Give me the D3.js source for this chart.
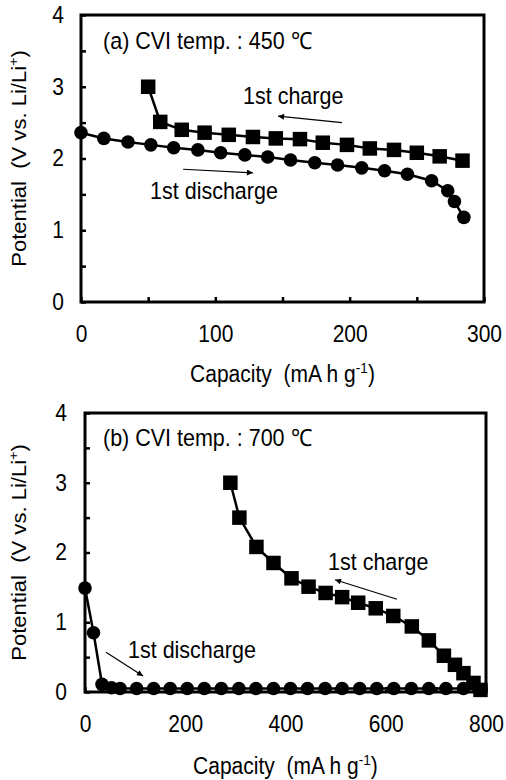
<!DOCTYPE html>
<html><head><meta charset="utf-8">
<script src="https://cdn.jsdelivr.net/npm/d3@7"></script>
<style>body{margin:0;background:#fff}
text{font-family:"Liberation Sans",Arial,sans-serif;fill:#000;white-space:pre}
.st{transform-box:fill-box;transform-origin:center;transform:scaleY(1.1)}
</style>
</head><body><svg id="c" width="506" height="780"></svg>
<script>
// ---- data (a) CVI 450
const aDisX=[0,17,35,52,69,87,104,122,139,156,174,191,209,226,243,261,273,278,285];
const aDisY=[2.36,2.28,2.23,2.19,2.15,2.12,2.08,2.05,2.02,1.98,1.94,1.91,1.87,1.83,1.78,1.69,1.55,1.40,1.18];
const aChgX=[50,59,75,92,110,128,145,163,180,198,215,233,250,267,284];
const aChgY=[3.0,2.51,2.40,2.36,2.33,2.30,2.28,2.27,2.22,2.19,2.14,2.12,2.08,2.03,1.97];
// ---- data (b) CVI 700
const bDisX=[0,17,34,53,70,103,137,170,204,238,272,307,341,376,410,444,479,513,548,582,616,651,686,720,755,786];
const bDisY=[1.49,0.85,0.11,0.06,0.05,0.05,0.05,0.05,0.05,0.05,0.05,0.05,0.05,0.05,0.05,0.05,0.05,0.05,0.05,0.05,0.05,0.05,0.05,0.05,0.05,0.04];
const bChgX=[290,308,342,376,412,446,480,513,545,580,615,652,686,716,738,755,775,789];
const bChgY=[3.0,2.50,2.08,1.85,1.63,1.51,1.42,1.36,1.28,1.20,1.09,0.94,0.74,0.52,0.39,0.27,0.13,0.03];
// ---- ticks
const yTicks=[0,0.5,1,1.5,2,2.5,3,3.5,4];
const yLabels=[0,1,2,3,4];
const aXTicks=[0,50,100,150,200,250,300];
const aXLabels=[0,100,200,300];
const bXTicks=[0,100,200,300,400,500,600,700,800];
const bXLabels=[0,200,400,600,800];

const svg=d3.select("#c");
const FS=21;

function panel(c){
  const x=d3.scaleLinear().domain(c.xd).range([c.l,c.r]);
  const y=d3.scaleLinear().domain([0,4]).range([c.b,c.t]);
  const g=svg.append("g");
  const xa=d3.axisBottom(x).tickValues(c.xTicks).tickSizeInner(-5).tickSizeOuter(0).tickPadding(24)
    .tickFormat(d=>c.xLabels.includes(d)?d:"");
  const gx=g.append("g").attr("transform",`translate(0,${c.b})`).call(xa);
  const ya=d3.axisLeft(y).tickValues(yTicks).tickSizeInner(-5).tickSizeOuter(0).tickPadding(c.yPad)
    .tickFormat(d=>yLabels.includes(d)?d:"");
  const gy=g.append("g").attr("transform",`translate(${c.l},0)`).call(ya);
  [gx,gy].forEach(a=>{a.select(".domain").remove();
    a.selectAll("line").attr("stroke","#000").attr("stroke-width",2.5);
    a.selectAll("text").attr("font-size",FS).attr("font-family","Liberation Sans, Arial, sans-serif").attr("class","st");});
  g.append("rect").attr("x",c.l).attr("y",c.t).attr("width",c.r-c.l).attr("height",c.b-c.t)
    .attr("fill","none").attr("stroke","#000").attr("stroke-width",3);
  const line=d3.line().x(d=>x(d[0])).y(d=>y(d[1]));
  const dis=c.disX.map((v,i)=>[v,c.disY[i]]);
  const chg=c.chgX.map((v,i)=>[v,c.chgY[i]]);
  g.append("path").datum(dis).attr("d",line).attr("fill","none").attr("stroke","#000").attr("stroke-width",2.5);
  g.append("path").datum(chg).attr("d",line).attr("fill","none").attr("stroke","#000").attr("stroke-width",2.5);
  g.selectAll(".cir").data(dis).enter().append("circle").attr("cx",d=>x(d[0])).attr("cy",d=>y(d[1])).attr("r",6.8).attr("fill","#000");
  const s=14.5;
  g.selectAll(".sq").data(chg).enter().append("rect").attr("x",d=>x(d[0])-s/2).attr("y",d=>y(d[1])-s/2).attr("width",s).attr("height",s).attr("fill","#000");
  const AF=21.5;
  g.append("text").attr("class","st").attr("x",x(c.title[0])).attr("y",y(c.title[1])).attr("font-size",AF).text(c.title[2]);
  g.append("text").attr("class","st").attr("x",x(c.chgLab[0])).attr("y",y(c.chgLab[1])).attr("font-size",AF).text("1st charge");
  g.append("text").attr("class","st").attr("x",x(c.disLab[0])).attr("y",y(c.disLab[1])).attr("font-size",AF).text("1st discharge");
  [c.chgArr,c.disArr].forEach(a=>{
    g.append("line").attr("x1",x(a[0])).attr("y1",y(a[1])).attr("x2",x(a[2])).attr("y2",y(a[3]))
      .attr("stroke","#000").attr("stroke-width",1.2).attr("marker-end","url(#ah)");
  });
  const xt=g.append("text").attr("class","st").attr("x",(c.l+c.r)/2).attr("y",c.xTitleY).attr("text-anchor","middle").attr("font-size",FS);
  xt.append("tspan").text("Capacity  (mA h g");
  xt.append("tspan").attr("font-size",FS*0.65).attr("dy",-8).text("-1");
  xt.append("tspan").attr("dy",8).text(")");
  const yt=g.append("g").attr("transform",`translate(${c.yTitleX},${(c.t+c.b)/2}) scale(1,1.05) rotate(-90)`)
    .append("text").attr("text-anchor","middle").attr("font-size",FS);
  yt.append("tspan").text("Potential  (V vs. Li/Li");
  yt.append("tspan").attr("font-size",FS*0.65).attr("dy",-8).text("+");
  yt.append("tspan").attr("dy",8).text(")");
}

svg.append("defs").append("marker").attr("id","ah").attr("viewBox","0 0 10 10").attr("refX",10).attr("refY",5)
  .attr("markerWidth",8).attr("markerHeight",6).attr("markerUnits","userSpaceOnUse").attr("orient","auto")
  .append("path").attr("d","M0,0 L10,5 L0,10 z").attr("fill","#000");

panel({l:81,r:484,t:15,b:302,xd:[0,300],xTicks:aXTicks,xLabels:aXLabels,yPad:17,
  disX:aDisX,disY:aDisY,chgX:aChgX,chgY:aChgY,
  title:[16.4,3.54,"(a) CVI temp. : 450 \u2103"],chgLab:[120.6,2.77],disLab:[51.4,1.45],
  chgArr:[194.3,2.50,146.7,2.59],disArr:[76,1.85,128,1.80],xTitleY:381,yTitleX:26});
panel({l:85,r:486,t:413,b:692,xd:[0,800],xTicks:bXTicks,xLabels:bXLabels,yPad:18,
  disX:bDisX,disY:bDisY,chgX:bChgX,chgY:bChgY,
  title:[35.9,3.53,"(b) CVI temp. : 700 \u2103"],chgLab:[484.8,1.76],disLab:[85.8,0.50],
  chgArr:[622.4,1.33,498.8,1.61],disArr:[41.9,0.57,115.7,0.23],xTitleY:773,yTitleX:26});
</script></body></html>
